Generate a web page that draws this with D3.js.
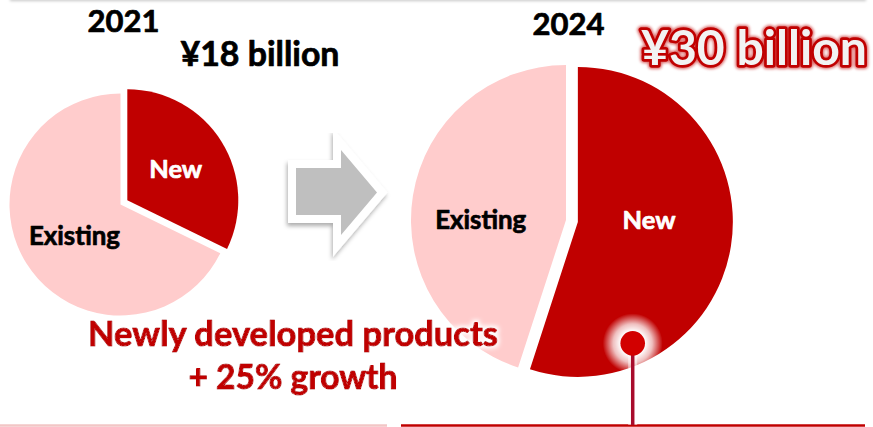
<!DOCTYPE html>
<html>
<head>
<meta charset="utf-8">
<script src="https://cdn.jsdelivr.net/npm/d3@7"></script>
<style>
  html, body { margin: 0; padding: 0; background: #fff; }
  svg { display: block; }
</style>
</head>
<body>
<svg id="chart" width="873" height="427"></svg>
<script>
// ---- data -------------------------------------------------------------
const years = ["2021", "2024"];
const totals = [18, 30];                       // ¥ billion
const totalLabels = ["¥18 billion", "¥30 billion"];
const segments = ["New", "Existing"];
const newSales = [5.8, 16.5];                  // ¥ billion
const existingSales = [12.2, 13.5];            // ¥ billion
const noteLines = ["Newly developed products", "+ 25% growth"];

// ---- layout -----------------------------------------------------------
const W = 873, H = 427;
const FONT = "Lato, 'Open Sans', 'DejaVu Sans', sans-serif";
const COL = {
  New: "#C00000",
  Existing: "#FFCCCC",
  arrow: "#BFBFBF",
  note: "#C00000",
  stem: "#A80C2C",
  dot: "#D20000",
  halo: "#F2F2F2"
};
const centres = [[120.5, 204.5], [566, 220]];
const explode = [8, 12];
// slice label placement: angle (deg, clockwise from 12 o'clock) and radius fraction
const labelSpots = [
  { New: [57, 0.52], Existing: [236, 0.50] },
  { New: [88, 0.46], Existing: [270, 0.55] }
];
// year headings and totals: centre x, baseline, fitted ink width
const yearPos = [[123.5, 32, 73], [568.5, 35, 73]];
const totalPos = [[260, 66, 160], [754, 65, 226]];
const notePos = [[293, 346, 411], [293, 389, 210]];
const EMBOLDEN = 0.7;   // extra stroke to give the heavy bold look

const svg = d3.select("#chart");
const defs = svg.append("defs");

// soft drop shadow used for the arrow
const sh = defs.append("filter").attr("id", "shadow")
  .attr("x", "-20%").attr("y", "-20%").attr("width", "140%").attr("height", "150%");
sh.append("feDropShadow").attr("dx", -1).attr("dy", 3).attr("stdDeviation", 2.2)
  .attr("flood-color", "#000").attr("flood-opacity", 0.32);

const topSh = defs.append("filter").attr("id", "topShadow")
  .attr("x", "-5%").attr("y", "-50%").attr("width", "110%").attr("height", "200%");
topSh.append("feDropShadow").attr("dx", 0).attr("dy", 1).attr("stdDeviation", 1.6)
  .attr("flood-color", "#000").attr("flood-opacity", 0.22);

// white halo behind text
const wg = defs.append("filter").attr("id", "whiteGlow")
  .attr("x", "-10%").attr("y", "-40%").attr("width", "120%").attr("height", "180%");
wg.append("feMorphology").attr("in", "SourceAlpha").attr("operator", "dilate").attr("radius", 2).attr("result", "d");
wg.append("feGaussianBlur").attr("in", "d").attr("stdDeviation", 2).attr("result", "b");
wg.append("feFlood").attr("flood-color", "#fff").attr("result", "f");
wg.append("feComposite").attr("in", "f").attr("in2", "b").attr("operator", "in").attr("result", "g");
const wgm = wg.append("feMerge");
wgm.append("feMergeNode").attr("in", "g");
wgm.append("feMergeNode").attr("in", "SourceGraphic");

// red soft glow for the highlighted total
const rg = defs.append("filter").attr("id", "redGlow")
  .attr("x", "-10%").attr("y", "-40%").attr("width", "120%").attr("height", "180%");
rg.append("feGaussianBlur").attr("in", "SourceGraphic").attr("stdDeviation", 1.5);

// radial halo around the callout dot
const rad = defs.append("radialGradient").attr("id", "dotHalo");
rad.append("stop").attr("offset", "0.40").attr("stop-color", "#fff").attr("stop-opacity", 1);
rad.append("stop").attr("offset", "0.65").attr("stop-color", "#fff").attr("stop-opacity", 0.75);
rad.append("stop").attr("offset", "1").attr("stop-color", "#fff").attr("stop-opacity", 0);

// fit a text element's advance width to a target width
function fit(sel, width) {
  sel.attr("font-size", 20);
  const len = sel.node().getComputedTextLength();
  const size = 20 * width / len;
  sel.attr("font-size", size);
  return size;
}
// bold text with a thin same-colour stroke
function boldText(parent, x, y, str, fill) {
  return parent.append("text").attr("x", x).attr("y", y)
    .attr("text-anchor", "middle").attr("font-family", FONT).attr("font-weight", 700)
    .attr("fill", fill).attr("stroke", fill).attr("stroke-width", EMBOLDEN)
    .attr("stroke-linejoin", "round").text(str);
}

// ---- top panel edge ---------------------------------------------------
svg.append("rect").attr("x", 10).attr("y", -30).attr("width", 856).attr("height", 30)
  .attr("fill", "#fff").attr("filter", "url(#topShadow)");

// ---- bottom rules -----------------------------------------------------
svg.append("line").attr("x1", 0).attr("x2", 387).attr("y1", 425.5).attr("y2", 425.5)
  .attr("stroke", "#F2C6C6").attr("stroke-width", 2.5);
svg.append("line").attr("x1", 401).attr("x2", 865).attr("y1", 425.5).attr("y2", 425.5)
  .attr("stroke", "#C00000").attr("stroke-width", 2.5);

// ---- pies -------------------------------------------------------------
const pie = d3.pie().sort(null).value(d => d.value);
const rScale = d3.scaleLinear().domain(d3.extent(totals)).range([111, 155]);
const sliceCentres = [];

years.forEach((yr, i) => {
  const rows = segments.map(s => ({
    seg: s,
    value: s === "New" ? newSales[i] : existingSales[i]
  }));
  const r = rScale(totals[i]);
  const arc = d3.arc().innerRadius(0).outerRadius(r);
  const g = svg.append("g").attr("transform", `translate(${centres[i][0]},${centres[i][1]})`);
  const slices = {};

  pie(rows).forEach(a => {
    const off = a.data.seg === "New" ? explode[i] : 0;
    const mid = (a.startAngle + a.endAngle) / 2;
    const dx = Math.sin(mid) * off, dy = -Math.cos(mid) * off;
    const sg = g.append("g").attr("transform", `translate(${dx},${dy})`);
    sg.append("path").attr("d", arc(a)).attr("fill", COL[a.data.seg]);
    slices[a.data.seg] = { g: sg, dx, dy, r };
  });
  sliceCentres.push({ slices, r });

  // slice labels
  Object.keys(slices).forEach(seg => {
    const s = slices[seg];
    const [deg, f] = labelSpots[i][seg];
    const ang = deg * Math.PI / 180;
    const lx = Math.sin(ang) * f * r, ly = -Math.cos(ang) * f * r;
    const t = boldText(s.g, lx, 0, seg, seg === "New" ? "#fff" : "#000");
    const size = fit(t, seg === "New" ? 53 : 91);
    t.attr("y", ly + size * 0.36);
  });
});

// ---- year headings and totals ------------------------------------------
years.forEach((yr, i) => {
  const t = boldText(svg, yearPos[i][0], yearPos[i][1], yr, "#000");
  fit(t, yearPos[i][2] - 1);
});

// 2021 total: plain black
{
  const t = boldText(svg, totalPos[0][0], totalPos[0][1], totalLabels[0], "#000");
  fit(t, totalPos[0][2] - 1);
}
// 2024 total: light fill with a glowing red outline
{
  const glow = svg.append("text").attr("x", totalPos[1][0]).attr("y", totalPos[1][1])
    .attr("text-anchor", "middle").attr("font-family", FONT).attr("font-weight", 700)
    .attr("fill", "#C00000").attr("stroke", "#C00000").attr("stroke-width", 8)
    .attr("stroke-linejoin", "round").attr("opacity", 0.6)
    .attr("filter", "url(#redGlow)").text(totalLabels[1]);
  const size = fit(glow, totalPos[1][2]);
  svg.append("text").attr("x", totalPos[1][0]).attr("y", totalPos[1][1])
    .attr("text-anchor", "middle").attr("font-family", FONT).attr("font-weight", 700)
    .attr("font-size", size)
    .attr("fill", COL.halo).attr("stroke", "#C00000").attr("stroke-width", 5.5)
    .attr("stroke-linejoin", "round").attr("paint-order", "stroke")
    .text(totalLabels[1]);
}

// ---- arrow between the two years ----------------------------------------
const arrowPts = [[296, 168], [341, 168], [341, 150], [377, 192.5], [341, 235], [341, 215], [296, 215]];
const arrowPath = d3.line()(arrowPts) + "Z";
svg.append("path").attr("d", arrowPath).attr("fill", "#fff")
  .attr("stroke", "#fff").attr("stroke-width", 16).attr("stroke-linejoin", "miter")
  .attr("stroke-miterlimit", 6).attr("filter", "url(#shadow)");
svg.append("path").attr("d", arrowPath).attr("fill", COL.arrow);

// ---- growth note -------------------------------------------------------
noteLines.forEach((line, k) => {
  const t = boldText(svg, notePos[k][0], notePos[k][1], line, COL.note)
    .attr("stroke-width", 1.1).attr("filter", "url(#whiteGlow)");
  fit(t, notePos[k][2] - 1);
});

// ---- callout dot on the 2024 "New" slice, with stem to the rule ----------
{
  const s = sliceCentres[1].slices.New;
  const r = sliceCentres[1].r;
  const ang = 155.7 * Math.PI / 180, f = 0.86;
  const cx = centres[1][0] + s.dx + Math.sin(ang) * f * r;
  const cy = centres[1][1] + s.dy - Math.cos(ang) * f * r;
  svg.append("line").attr("x1", cx).attr("x2", cx).attr("y1", cy).attr("y2", 425)
    .attr("stroke", "#fff").attr("stroke-width", 9).attr("opacity", 0.5);
  svg.append("circle").attr("cx", cx).attr("cy", cy).attr("r", 30).attr("fill", "url(#dotHalo)");
  svg.append("line").attr("x1", cx).attr("x2", cx).attr("y1", cy).attr("y2", 425)
    .attr("stroke", COL.stem).attr("stroke-width", 3.5);
  svg.append("circle").attr("cx", cx).attr("cy", cy).attr("r", 12.3).attr("fill", COL.dot);
}
</script>
</body>
</html>
